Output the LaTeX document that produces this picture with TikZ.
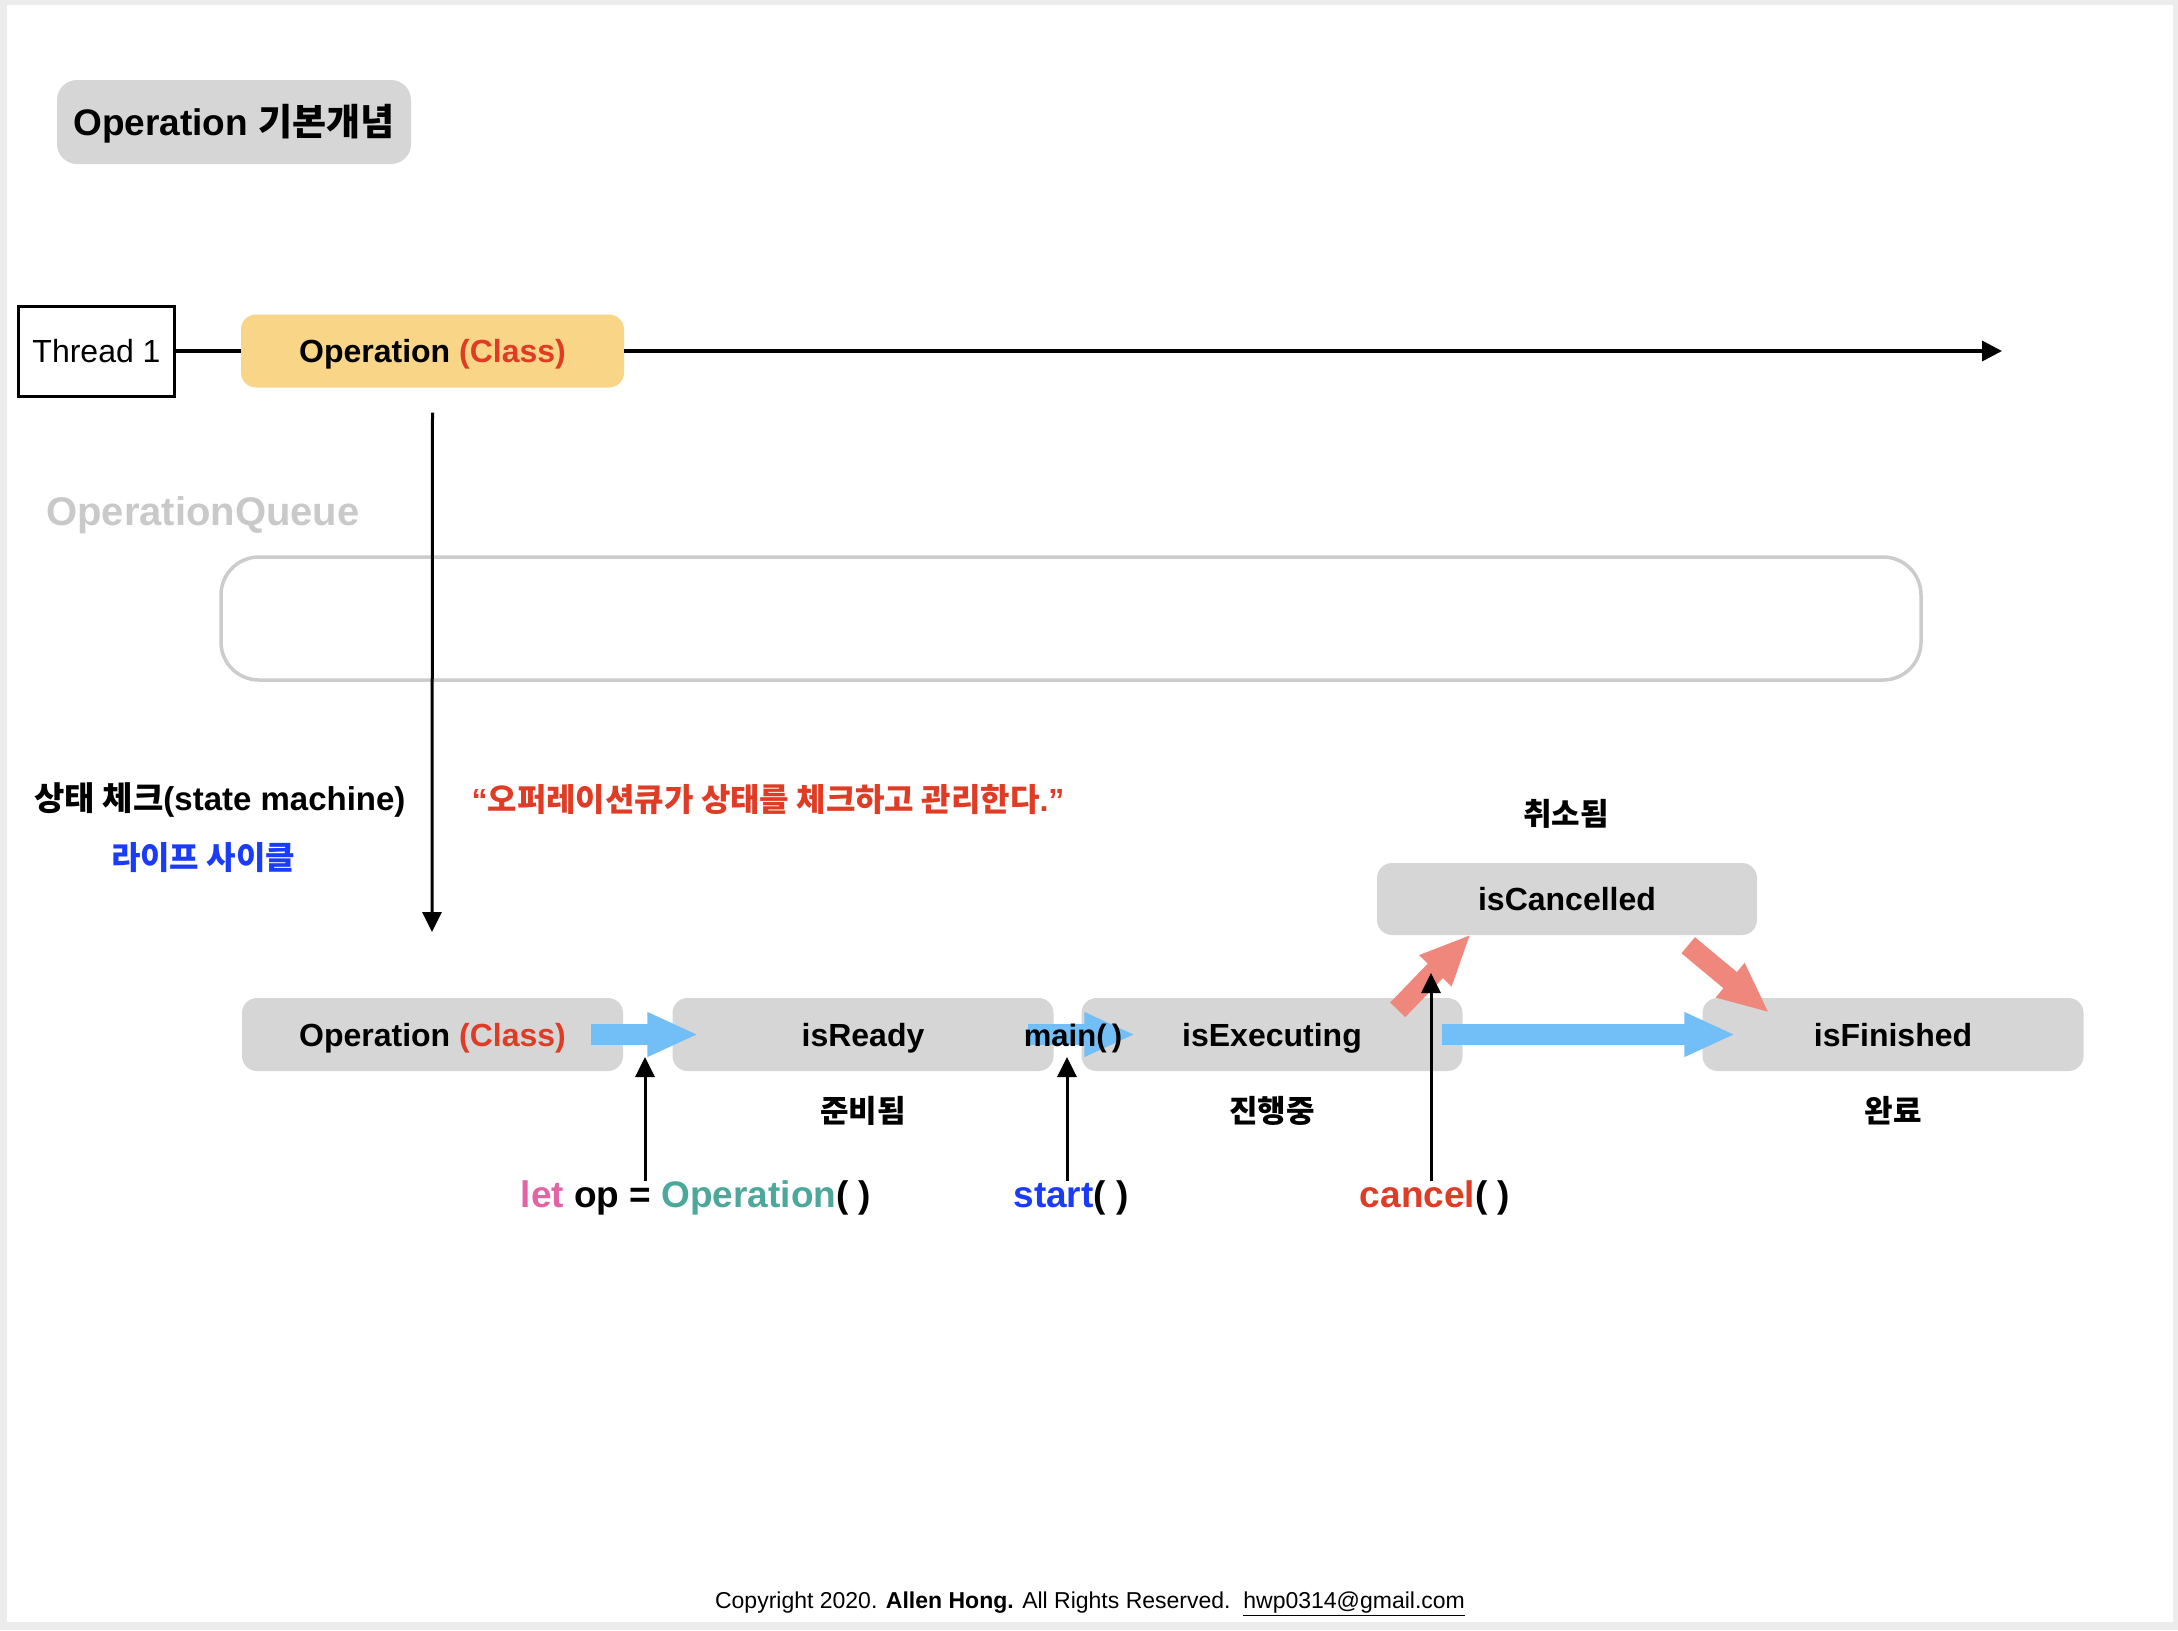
\documentclass[tikz,border=0pt]{standalone}
\usepackage{fontspec}
\setmainfont{Liberation Sans}
\newfontfamily\kr{Noto Sans CJK KR}
\usetikzlibrary{arrows.meta,calc}
\definecolor{boxgray}{HTML}{D6D6D6}
\definecolor{opyellow}{HTML}{F8D587}
\definecolor{codered}{HTML}{E03B24}
\definecolor{codeblue}{HTML}{1A3CFA}
\definecolor{codepink}{HTML}{E264A4}
\definecolor{codeteal}{HTML}{4BA89B}
\definecolor{flowblue}{HTML}{72BFF8}
\definecolor{flowred}{HTML}{F0877D}
\definecolor{queuegray}{HTML}{CCCCCC}
\definecolor{queuetext}{HTML}{C9C9C9}
\definecolor{framegray}{HTML}{ECECEC}
\newcommand{\pxsize}[1]{\fontsize{#1}{#1}\selectfont}

\begin{document}
\begin{tikzpicture}[x=1pt,y=-1pt]
			\tikzset{% This is the style settings for nodes and arrows
				graynode/.style={rounded corners=15pt,fill=boxgray,minimum width=381pt,minimum height=73pt,inner sep=0pt,text height=23pt,text depth=0pt,font=\pxsize{32}\bfseries},
				yellownode/.style={graynode,fill=opyellow},
				threadnode/.style={draw,line width=3pt,minimum width=156pt,minimum height=90pt,inner sep=0pt,text height=22pt,text depth=0pt,font=\pxsize{32}},
				notenode/.style={inner sep=0pt,font=\pxsize{31}\bfseries\kr},
				codenode/.style={inner sep=0pt,font=\pxsize{37}\bfseries},
				bluearrow/.style={draw=flowblue,line width=21pt,-{Triangle[length=51pt,width=41pt]}},
				redarrow/.style={bluearrow,draw=flowred},
				callarrow/.style={line width=3pt,-{Triangle[length=20pt,width=19pt]}}}
			\fill[framegray] (0,0) rectangle (2178,1630);
			\fill[white] (7,5) rectangle (2173,1622);
			\useasboundingbox (0,0) rectangle (2178,1630);

			\node[graynode,minimum width=354pt,minimum height=84pt,rounded corners=20pt,text height=27pt,font=\pxsize{37}\bfseries] (title) at (234,122) {Operation {\kr 기본개념}};

			\node[threadnode] (t1) at (96.5,351) {Thread 1};
			\node[yellownode,minimum width=383pt] (opc) at (432.5,351) {Operation \textcolor{codered}{(Class)}};
			\coordinate (tend) at (2002,351);
			\draw[line width=3.5pt] (t1) -- (opc);
			\draw[line width=3.5pt,-{Triangle[length=20pt,width=20pt]}] (opc) -- (tend);

			\node[inner sep=0pt,anchor=base west,font=\pxsize{40}\bfseries,text=queuetext] (qlabel) at (46,525) {OperationQueue};
			\node[draw=queuegray,line width=3.5pt,rounded corners=38pt,minimum width=1700pt,minimum height=123pt] (queue) at (1071,618.5) {};
			\coordinate (drop) at (432,932);
			\draw[callarrow] ($(opc.south)+(0,25)$) -- (drop);

			\node[inner sep=0pt,font=\pxsize{33}\bfseries] (statechk) at (220,800) {{\kr 상태 체크}(state machine)};
			\node[inner sep=0pt,font=\pxsize{32}\bfseries\kr,text=codeblue] (life) at (203,858) {라이프 사이클};
			\node[inner sep=0pt,font=\pxsize{32}\bfseries,text=codered] (quote) at (768,800) {“{\kr 오퍼레이션큐가 상태를 체크하고 관리한다}.”};

			\node[graynode] (opb) at (432.5,1034.5) {Operation \textcolor{codered}{(Class)}};
			\node[graynode] (rdy) at (863,1034.5) {isReady};
			\node[graynode] (exe) at (1272,1034.5) {isExecuting};
			\node[graynode] (fin) at (1893,1034.5) {isFinished};
			\node[graynode,minimum width=380pt,minimum height=72pt] (can) at (1567,899) {isCancelled};

			\node[notenode] (rdynote) at (863,1111) {준비됨};
			\node[notenode] (exenote) at (1272,1111) {진행중};
			\node[notenode] (finnote) at (1893,1111) {완료};
			\node[notenode] (cannote) at (1566,814) {취소됨};

			\draw[bluearrow] ($(opb.east)+(-32,0)$) -- ($(rdy.west)+(26,0)$);
			\draw[bluearrow] ($(rdy.east)+(-26,0)$) -- ($(exe.west)+(54,0)$);
			\draw[bluearrow] ($(exe.east)+(-21,0)$) -- ($(fin.west)+(33,0)$);
			\draw[redarrow] ($(exe.north east)+(-65,12)$) -- ($(can.south west)+(94,-1)$);
			\draw[redarrow] ($(can.south east)+(-69,10)$) -- ($(fin.north west)+(67,15)$);

			\node[inner sep=0pt,text height=23pt,text depth=0pt,font=\pxsize{31}\bfseries] (mainlbl) at (1073,1035) {main(\,)};

			\node[codenode] (newcode) at (696,1198) {\textcolor{codepink}{let} op = \textcolor{codeteal}{Operation}(\ )};
			\node[codenode] (startcode) at (1071,1198) {\textcolor{codeblue}{start}(\ )};
			\node[codenode] (cancelcode) at (1435,1198) {\textcolor{codered}{cancel}(\ )};
			\coordinate (newop) at (645,1057);
			\coordinate (startop) at (1067,1057);
			\coordinate (cancelop) at (1431,973);
			\draw[callarrow] (newop |- newcode.north) -- (newop);
			\draw[callarrow] (startop |- startcode.north) -- (startop);
			\draw[callarrow] (cancelop |- cancelcode.north) -- (cancelop);

			\node[inner sep=0pt,font=\pxsize{23}] (copy) at (1090,1604) {Copyright 2020. \textbf{Allen Hong.} All Rights Reserved.\ \ \underline{hwp0314@gmail.com}};
		\end{tikzpicture}
\end{document}
